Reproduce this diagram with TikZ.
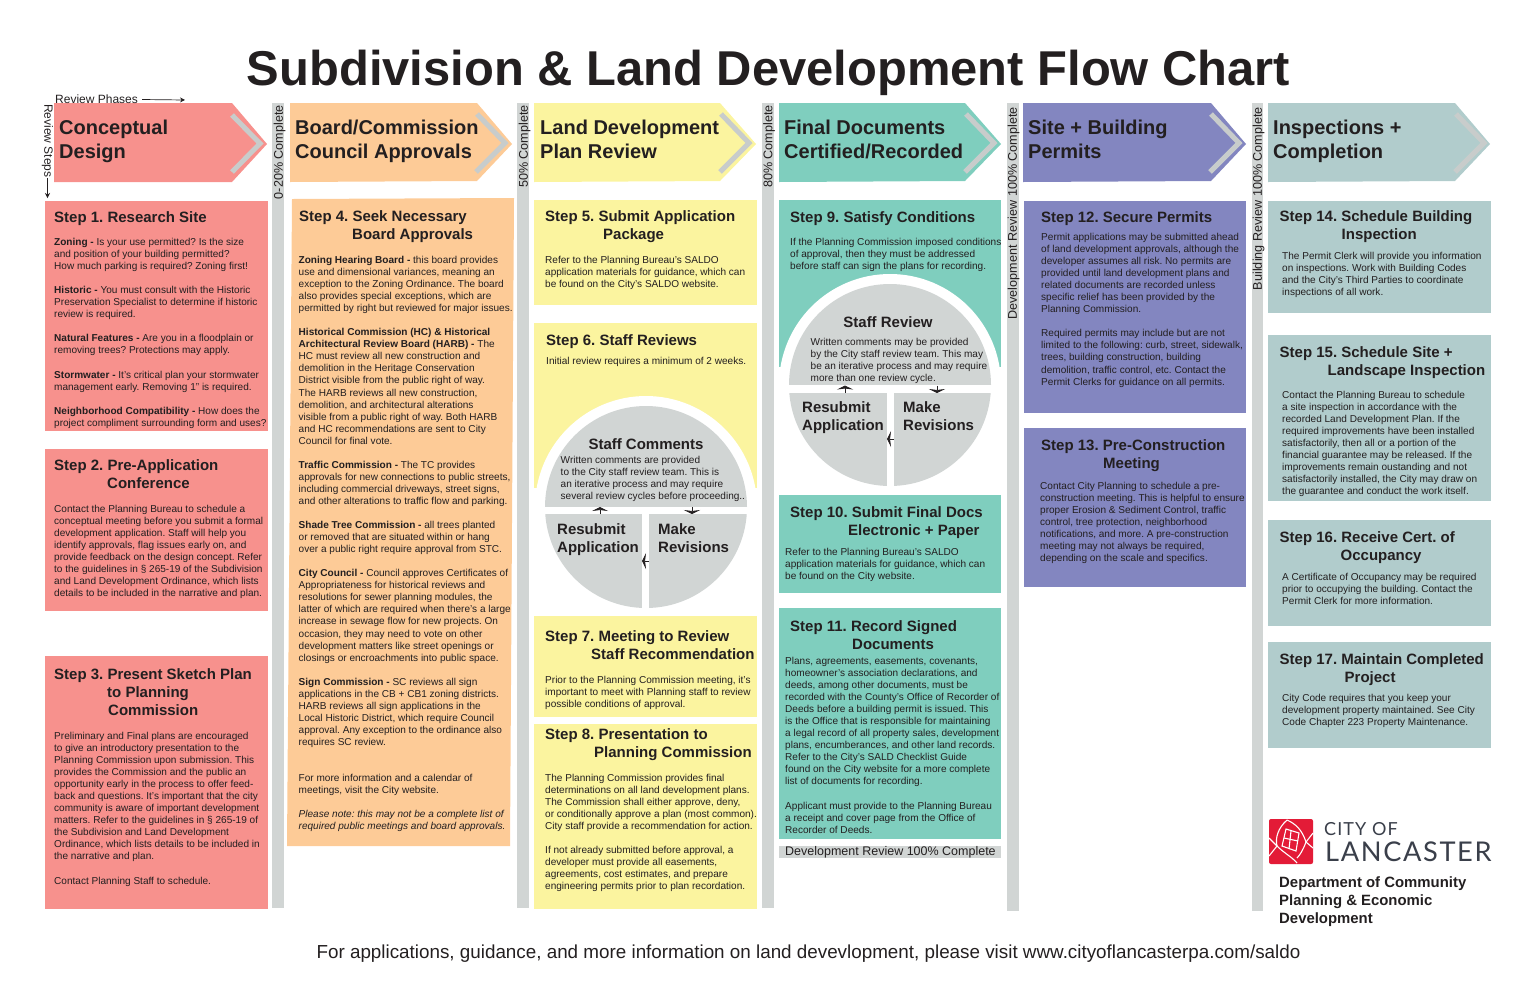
\documentclass[tikz,border=0pt]{standalone}
\usepackage{fontspec}
\setmainfont{Liberation Sans}
\newfontfamily\logofont[LetterSpace=6]{Lato}
\usetikzlibrary{arrows.meta}
\frenchspacing

\definecolor{inkdark}{HTML}{231F20}
\definecolor{redfill}{HTML}{F7918D}
\definecolor{orangefill}{HTML}{FDCB97}
\definecolor{yellowfill}{HTML}{FBF49F}
\definecolor{tealfill}{HTML}{7FCEBE}
\definecolor{purplefill}{HTML}{8386C0}
\definecolor{slatefill}{HTML}{B1CCCC}
\definecolor{bargrey}{HTML}{D1D5D4}
\definecolor{chevrongrey}{HTML}{C8CCCB}
\definecolor{logored}{HTML}{E31B37}
\definecolor{logoink}{HTML}{3A3F4A}

\tikzset{
    textbase/.style = {inner sep=0, text=inkdark, anchor=north west, align=left, execute at begin node=\strut},
    phasetitle/.style = {textbase, yshift=-3pt, font=\fontsize{20}{24}\selectfont\bfseries},
    steptitle/.style = {textbase, yshift=-0.7pt, font=\fontsize{15}{18}\selectfont\bfseries},
    stepbody/.style = {textbase, yshift=-1pt, font=\fontsize{10.05}{12.05}\selectfont},
    cycletitle/.style = {textbase, yshift=-1pt, font=\fontsize{15}{18}\selectfont\bfseries},
    barlabel/.style = {inner sep=0, text=inkdark, rotate=90, anchor=east, font=\fontsize{12.6}{14}\selectfont},
    chevron/.style = {draw=chevrongrey, line width=5pt, miter limit=10},
    cyclearrow/.style = {line width=1pt, -{Stealth[length=4pt,width=16pt,inset=1pt]}, inkdark},
    thinarrow/.style = {line width=0.7pt, -{Stealth[length=5pt,width=5pt]}, inkdark}
}

\begin{document}
\begin{tikzpicture}[x=1pt, y=-1pt]
    \useasboundingbox (0,0) rectangle (1536,994);

    % Title:
    \node[inner sep=0, text=inkdark, font=\fontsize{48.9}{54}\selectfont\bfseries] (title) at (768.5,73) {Subdivision \& Land Development Flow Chart};

    % Progress bars:
    \fill[bargrey] (272,103) rectangle (284,908);
    \fill[bargrey] (517,103) rectangle (529,908);
    \fill[bargrey] (762,103) rectangle (774,908);
    \fill[bargrey] (1007,103) rectangle (1019,911);
    \fill[bargrey] (1252,103) rectangle (1263,911);
    \node[barlabel] (bar1) at (279.5,105) {0-20\% Complete};
    \node[barlabel] (bar2) at (524.5,105) {50\% Complete};
    \node[barlabel] (bar3) at (769,105) {80\% Complete};
    \node[barlabel] (bar4) at (1013.5,107) {Development Review 100\% Complete};
    \node[barlabel] (bar5) at (1258.5,107) {Building Review 100\% Complete};

    % Phase arrows:
    \fill[redfill] (54,103) -- (232,103) -- (267,144) -- (232,182) -- (54,182) -- cycle;
    \fill[orangefill] (290,103) -- (477,103) -- (512,144) -- (477,181) -- (290,182) -- cycle;
    \fill[yellowfill] (534,103) -- (720,103) -- (756,144) -- (720,181) -- (534,182) -- cycle;
    \fill[tealfill] (779,103) -- (965,103) -- (1001,144) -- (965,181) -- (779,182) -- cycle;
    \fill[purplefill] (1023,103) -- (1211,103) -- (1246,144) -- (1211,181) -- (1023,182) -- cycle;
    \fill[slatefill] (1268,103) -- (1455,103) -- (1490,144) -- (1455,181) -- (1268,182) -- cycle;
    \draw[chevron] (232,115) -- (260,143.5) -- (232,172);
    \draw[chevron] (477,114) -- (505,143) -- (476,172);
    \draw[chevron] (721,114) -- (749,143) -- (720,172);
    \draw[chevron] (966,114) -- (994,143) -- (965,172);
    \draw[chevron] (1211,114) -- (1239,143) -- (1210,172);
    \draw[chevron] (1456,114) -- (1484,143) -- (1455,172);
    \node[phasetitle] (phase1) at (59,117) {Conceptual\\Design};
    \node[phasetitle] (phase2) at (295,117) {Board/Commission\\Council Approvals};
    \node[phasetitle] (phase3) at (540,117) {Land Development\\Plan Review};
    \node[phasetitle] (phase4) at (784,117) {Final Documents\\Certified/Recorded};
    \node[phasetitle] (phase5) at (1028,117) {Site + Building\\Permits};
    \node[phasetitle] (phase6) at (1273,117) {Inspections +\\Completion};

    % Axis hints:
    \node[inner sep=0, anchor=west, text=inkdark, font=\fontsize{12}{14}\selectfont] (phaseshint) at (55,99.5) {Review Phases};
    \coordinate (phasesend) at (185,100);
    \draw[thinarrow] ([xshift=4pt]phaseshint.east) -- (phasesend);
    \node[inner sep=0, rotate=-90, anchor=west, text=inkdark, font=\fontsize{12}{14}\selectfont] (stepshint) at (47.5,104) {Review Steps};
    \coordinate (stepsend) at (47.5,198);
    \draw[thinarrow] (stepshint.east) -- (stepsend);

    % Conceptual design steps:
    \fill[redfill] (45,200.5) rectangle (268,431);
    \fill[redfill] (45,448.5) rectangle (268,611);
    \fill[redfill] (45,656) rectangle (268,909);
    \node[steptitle] (title1) at (54,208.5) {Step 1. Research Site};
    \node[stepbody] (body1) at (54,237) {\textbf{Zoning -} Is your use permitted? Is the size\\and position of your building permitted?\\How much parking is required? Zoning first!\\[12.05pt]\textbf{Historic -} You must consult with the Historic\\Preservation Specialist to determine if historic\\review is required.\\[12.05pt]\textbf{Natural Features -} Are you in a floodplain or\\removing trees? Protections may apply.\\[12.05pt]\textbf{Stormwater -} It's critical plan your stormwater\\management early. Removing 1” is required.\\[12.05pt]\textbf{Neighborhood Compatibility -} How does the\\project compliment surrounding form and uses?};
    \node[steptitle] (title2) at (54,459) {Step 2. Pre-Application\\\hspace*{53pt}Conference};
    \node[stepbody] (body2) at (54,504) {Contact the Planning Bureau to schedule a\\conceptual meeting before you submit a formal\\development application. Staff will help you\\identify approvals, flag issues early on, and\\provide feedback on the design concept. Refer\\to the guidelines in § 265-19 of the Subdivision\\and Land Development Ordinance, which lists\\details to be included in the narrative and plan.};
    \node[steptitle] (title3) at (54,668) {Step 3. Present Sketch Plan\\\hspace*{53pt}to Planning\\\hspace*{54pt}Commission};
    \node[stepbody] (body3) at (54,731) {Preliminary and Final plans are encouraged\\to give an introductory presentation to the\\Planning Commission upon submission. This\\provides the Commission and the public an\\opportunity early in the process to offer feed-\\back and questions. It's important that the city\\community is aware of important development\\matters. Refer to the guidelines in § 265-19 of\\the Subdivision and Land Development\\Ordinance, which lists details to be included in\\the narrative and plan.\\[12.05pt]Contact Planning Staff to schedule.};

    % Board approvals step:
    \fill[orangefill] (292,199) -- (514,198) -- (510,846) -- (287,846) -- cycle;
    \node[steptitle] (title4) at (299,210) {Step 4. Seek Necessary\\\hspace*{53pt}Board Approvals};
    \node[stepbody] (body4) at (298.5,255) {\textbf{Zoning Hearing Board -} this board provides\\use and dimensional variances, meaning an\\exception to the Zoning Ordinance. The board\\also provides special exceptions, which are\\permitted by right but reviewed for major issues.\\[12.05pt]\textbf{Historical Commission (HC) \& Historical}\\\textbf{Architectural Review Board (HARB) -} The\\HC must review all new construction and\\demolition in the Heritage Conservation\\District visible from the public right of way.\\The HARB reviews all new construction,\\demolition, and architectural alterations\\visible from a public right of way. Both HARB\\and HC recommendations are sent to City\\Council for final vote.\\[12.05pt]\textbf{Traffic Commission -} The TC provides\\approvals for new connections to public streets,\\including commercial driveways, street signs,\\and other alterations to traffic flow and parking.\\[12.05pt]\textbf{Shade Tree Commission -} all trees planted\\or removed that are situated within or hang\\over a public right require approval from STC.\\[12.05pt]\textbf{City Council -} Council approves Certificates of\\Appropriateness for historical reviews and\\resolutions for sewer planning modules, the\\latter of which are required when there's a large\\increase in sewage flow for new projects. On\\occasion, they may need to vote on other\\development matters like street openings or\\closings or encroachments into public space.\\[12.05pt]\textbf{Sign Commission -} SC reviews all sign\\applications in the CB + CB1 zoning districts.\\HARB reviews all sign applications in the\\Local Historic District, which require Council\\approval. Any exception to the ordinance also\\requires SC review.\\[24.1pt]For more information and a calendar of\\meetings, visit the City website.\\[12.05pt]\textit{Please note: this may not be a complete list of}\\\textit{required public meetings and board approvals.}};

    % Plan review steps:
    \fill[yellowfill] (534,200) rectangle (757,305);
    \fill[yellowfill] (534,323) rectangle (757,488);
    \fill[white] (646,507) circle (111pt);
    \fill[yellowfill] (534,616) rectangle (757,717);
    \fill[yellowfill] (534,724) rectangle (757,909);
    \begin{scope}
        \clip (646,507) circle (101pt);
        \fill[bargrey] (540,400) rectangle (752,507);
        \fill[bargrey] (540,514) rectangle (642,612);
        \fill[bargrey] (649,514) rectangle (752,612);
    \end{scope}
    \node[steptitle] (title5) at (545,210) {Step 5. Submit Application\\\hspace*{58pt}Package};
    \node[stepbody] (body5) at (545,255) {Refer to the Planning Bureau's SALDO\\application materials for guidance, which can\\be found on the City's SALDO website.};
    \node[steptitle] (title6) at (546,332) {Step 6. Staff Reviews};
    \node[stepbody] (body6) at (546,355) {Initial review requires a minimum of 2 weeks.};
    \node[cycletitle, anchor=center, execute at begin node={}] (comments) at (646,444.5) {Staff Comments};
    \node[stepbody] (commentstext) at (560.5,455) {Written comments are provided\\to the City staff review team. This is\\an iterative process and may require\\several review cycles before proceeding..};
    \node[cycletitle] (resubmit) at (557,522) {Resubmit\\Application};
    \node[cycletitle] (revisions) at (658,522) {Make\\Revisions};
    \coordinate (upstart) at (600,514);
    \coordinate (upend) at (600,507);
    \coordinate (downstart) at (692,507);
    \coordinate (downend) at (692,514);
    \coordinate (leftstart) at (649,561);
    \coordinate (leftend) at (642,561);
    \draw[cyclearrow] (upstart) -- (upend);
    \draw[cyclearrow] (downstart) -- (downend);
    \draw[cyclearrow] (leftstart) -- (leftend);
    \node[steptitle] (title7) at (545,630) {Step 7. Meeting to Review\\\hspace*{46pt}Staff Recommendation};
    \node[stepbody] (body7) at (545,675) {Prior to the Planning Commission meeting, it's\\important to meet with Planning staff to review\\possible conditions of approval.};
    \node[steptitle] (title8) at (545,728) {Step 8. Presentation to\\\hspace*{49pt}Planning Commission};
    \node[stepbody] (body8) at (545,773) {The Planning Commission provides final\\determinations on all land development plans.\\The Commission shall either approve, deny,\\or conditionally approve a plan (most common).\\City staff provide a recommendation for action.\\[12.05pt]If not already submitted before approval, a\\developer must provide all easements,\\agreements, cost estimates, and prepare\\engineering permits prior to plan recordation.};

    % Final documents steps:
    \fill[tealfill] (779,200) rectangle (1001,367);
    \fill[white] (890,385) circle (111pt);
    \fill[tealfill] (779,495) rectangle (1001,593);
    \fill[tealfill] (779,608) rectangle (1001,839);
    \begin{scope}
        \clip (890,385) circle (101pt);
        \fill[bargrey] (785,280) rectangle (995,385);
        \fill[bargrey] (785,393) rectangle (887,490);
        \fill[bargrey] (894,393) rectangle (995,490);
    \end{scope}
    \fill[bargrey] (779,845.5) rectangle (1001,858);
    \node[steptitle] (title9) at (790,209) {Step 9. Satisfy Conditions};
    \node[stepbody] (body9) at (790,237) {If the Planning Commission imposed conditions\\of approval, then they must be addressed\\before staff can sign the plans for recording.};
    \node[cycletitle, anchor=center, execute at begin node={}] (review) at (888,322.5) {Staff Review};
    \node[stepbody] (reviewtext) at (810.5,337) {Written comments may be provided\\by the City staff review team. This may\\be an iterative process and may require\\more than one review cycle.};
    \node[cycletitle] (resubmit2) at (802,400) {Resubmit\\Application};
    \node[cycletitle] (revisions2) at (903,400) {Make\\Revisions};
    \coordinate (up2start) at (845,393);
    \coordinate (up2end) at (845,385.5);
    \coordinate (down2start) at (937,385.5);
    \coordinate (down2end) at (937,393);
    \coordinate (left2start) at (894,439);
    \coordinate (left2end) at (887,439);
    \draw[cyclearrow] (up2start) -- (up2end);
    \draw[cyclearrow] (down2start) -- (down2end);
    \draw[cyclearrow] (left2start) -- (left2end);
    \node[steptitle] (title10) at (790,506) {Step 10. Submit Final Docs\\\hspace*{58pt}Electronic + Paper};
    \node[stepbody] (body10) at (785,547) {Refer to the Planning Bureau's SALDO\\application materials for guidance, which can\\be found on the City website.};
    \node[steptitle] (title11) at (790,620) {Step 11. Record Signed\\\hspace*{62pt}Documents};
    \node[stepbody] (body11) at (785,656) {Plans, agreements, easements, covenants,\\homeowner's association declarations, and\\deeds, among other documents, must be\\recorded with the County's Office of Recorder of\\Deeds before a building permit is issued. This\\is the Office that is responsible for maintaining\\a legal record of all property sales, development\\plans, encumberances, and other land records.\\Refer to the City's SALD Checklist Guide\\found on the City website for a more complete\\list of documents for recording.\\[12.05pt]Applicant must provide to the Planning Bureau\\a receipt and cover page from the Office of\\Recorder of Deeds.};
    \node[inner sep=0, anchor=west, text=inkdark, font=\fontsize{12.5}{14}\selectfont] (devcomplete) at (785,852) {Development Review 100\% Complete};

    % Permit steps:
    \fill[purplefill] (1024,200.5) rectangle (1246,413);
    \fill[purplefill] (1023.5,428) rectangle (1246,587);
    \node[steptitle] (title12) at (1041,209) {Step 12. Secure Permits};
    \node[stepbody] (body12) at (1041,232) {Permit applications may be submitted ahead\\of land development approvals, although the\\developer assumes all risk. No permits are\\provided until land development plans and\\related documents are recorded unless\\specific relief has been provided by the\\Planning Commission.\\[12.05pt]Required permits may include but are not\\limited to the following: curb, street, sidewalk,\\trees, building construction, building\\demolition, traffic control, etc. Contact the\\Permit Clerks for guidance on all permits.};
    \node[steptitle] (title13) at (1041,439) {Step 13. Pre-Construction\\\hspace*{62pt}Meeting};
    \node[stepbody] (body13) at (1040,481) {Contact City Planning to schedule a pre-\\construction meeting. This is helpful to ensure\\proper Erosion \& Sediment Control, traffic\\control, tree protection, neighborhood\\notifications, and more. A pre-construction\\meeting may not always be required,\\depending on the scale and specifics.};

    % Inspection steps:
    \fill[slatefill] (1268,200.5) rectangle (1491,313);
    \fill[slatefill] (1268,335) rectangle (1491,501);
    \fill[slatefill] (1268,520) rectangle (1491,626);
    \fill[slatefill] (1268,642) rectangle (1491,748);
    \node[steptitle] (title14) at (1279.5,210) {Step 14. Schedule Building\\\hspace*{62pt}Inspection};
    \node[stepbody] (body14) at (1282,251) {The Permit Clerk will provide you information\\on inspections. Work with Building Codes\\and the City's Third Parties to coordinate\\inspections of all work.};
    \node[steptitle] (title15) at (1279.5,346) {Step 15. Schedule Site +\\\hspace*{48pt}Landscape Inspection};
    \node[stepbody] (body15) at (1282,390) {Contact the Planning Bureau to schedule\\a site inspection in accordance with the\\recorded Land Development Plan. If the\\required improvements have been installed\\satisfactorily, then all or a portion of the\\financial guarantee may be released. If the\\improvements remain oustanding and not\\satisfactorily installed, the City may draw on\\the guarantee and conduct the work itself.};
    \node[steptitle] (title16) at (1279.5,531) {Step 16. Receive Cert. of\\\hspace*{61pt}Occupancy};
    \node[stepbody] (body16) at (1282,572) {A Certificate of Occupancy may be required\\prior to occupying the building. Contact the\\Permit Clerk for more information.};
    \node[steptitle] (title17) at (1279.5,653) {Step 17. Maintain Completed\\\hspace*{65pt}Project};
    \node[stepbody] (body17) at (1282,693) {City Code requires that you keep your\\development property maintained. See City\\Code Chapter 223 Property Maintenance.};

    % Logo:
    \fill[logored, rounded corners=2pt] (1269,819) rectangle (1313,864);
    \draw[white, line width=1.1pt] (1269,838) -- (1277,846) -- (1269,856);
    \draw[white, line width=1.1pt] (1313,833) -- (1306,842) -- (1313,848);
    \draw[white, line width=1.1pt] (1287,820) .. controls (1278,828) and (1275,838) .. (1277,846) .. controls (1284,853) and (1292,857) .. (1297,863);
    \draw[white, line width=1.1pt] (1287,820) .. controls (1296,824) and (1302,830) .. (1306,842) .. controls (1303,850) and (1300,855) .. (1297,858);
    \draw[white, line width=1.1pt] (1286,829) -- (1299,833) -- (1296,851) -- (1282,846) -- cycle;
    \draw[white, line width=1.1pt] (1284,838) -- (1298,841);
    \draw[white, line width=1.1pt] (1291,831) -- (1289,849);
    \node[inner sep=0, anchor=west, text=logoink, font=\fontsize{18}{20}\logofont] (logocity) at (1324,829) {CITY OF};
    \node[inner sep=0, anchor=west, text=logoink, font=\fontsize{27.2}{32}\logofont] (logoname) at (1325,852) {LANCASTER};
    \node[inner sep=0, anchor=north west, align=left, text=inkdark, font=\fontsize{14.9}{18}\selectfont\bfseries, execute at begin node=\strut] (dept) at (1279,876.5) {Department of Community\\Planning \& Economic\\Development};

    % Footer:
    \node[inner sep=0, text=inkdark, font=\fontsize{18.83}{22}\selectfont] (footer) at (808.5,954) {For applications, guidance, and more information on land devevlopment, please visit www.cityoflancasterpa.com/saldo};
\end{tikzpicture}
\end{document}
